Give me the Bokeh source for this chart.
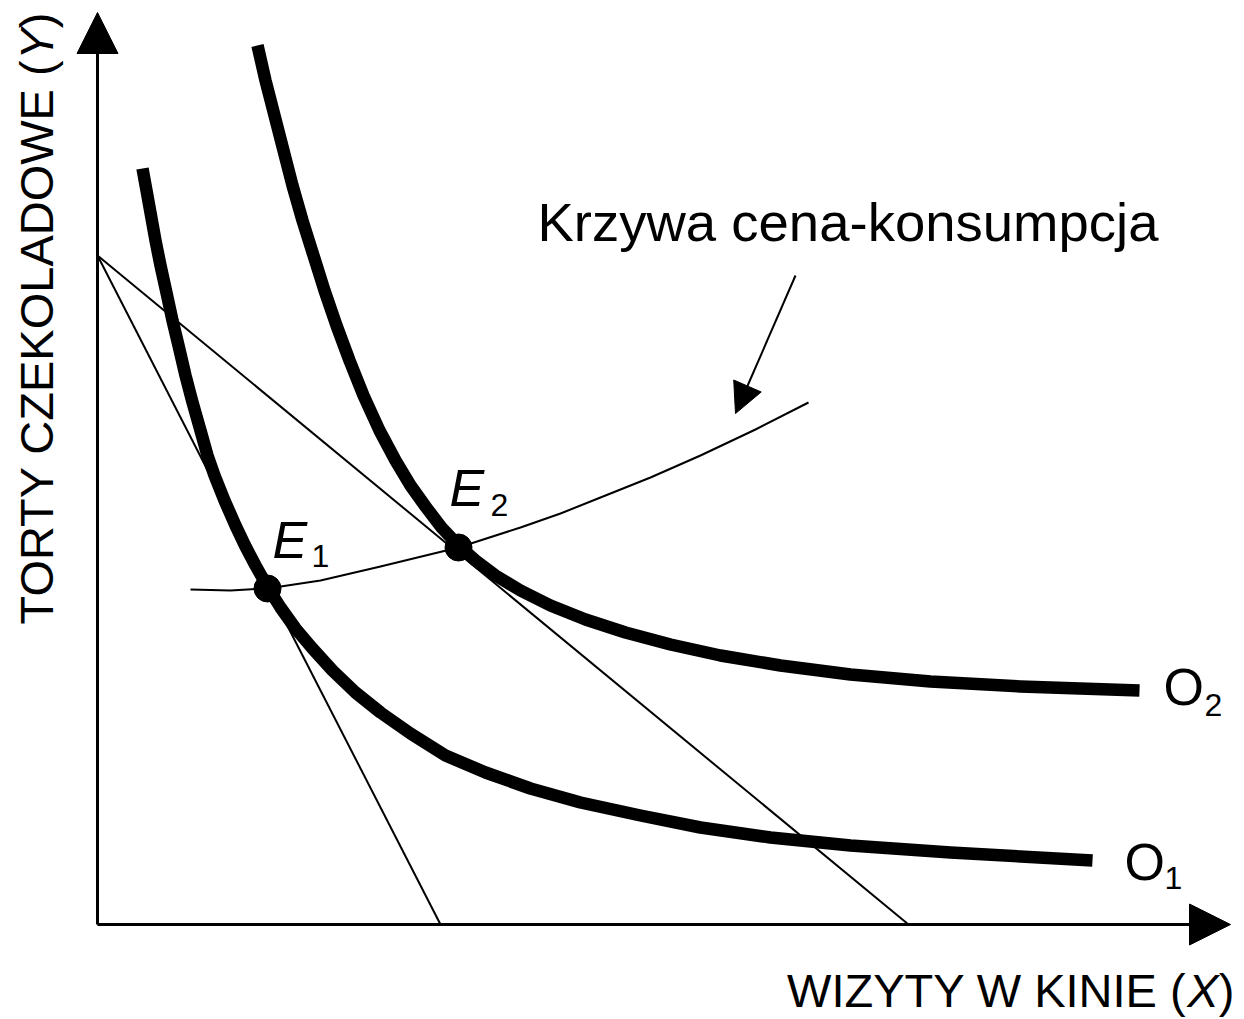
import math
from bokeh.plotting import figure
from bokeh.models import Range1d, Arrow, NormalHead
from bokeh.core.properties import value
from bokeh.embed import file_html
from bokeh.resources import INLINE

# ---- data (chart units, origin at the axes corner) ----
o1_x = [0.45, 0.49, 0.535, 0.58, 0.63, 0.685, 0.75, 0.81, 0.88, 0.945, 1.03, 1.10, 1.17, 1.27, 1.38, 1.475, 1.58, 1.71,
        1.83, 1.98, 2.15, 2.35, 2.58, 2.83, 3.13, 3.48, 3.88, 4.33, 4.83, 5.43, 6.03, 6.73, 7.53, 8.53, 9.95]
o1_y = [7.56, 7.34, 7.09, 6.84, 6.59, 6.34, 6.04, 5.79, 5.49, 5.24, 4.94, 4.69, 4.49, 4.24, 3.99, 3.79, 3.59, 3.36,
        3.17, 2.96, 2.76, 2.54, 2.32, 2.12, 1.91, 1.69, 1.52, 1.36, 1.22, 1.09, 0.97, 0.87, 0.79, 0.72, 0.64]

o2_x = [1.60, 1.68, 1.77, 1.86, 1.95, 2.05, 2.16, 2.27, 2.39, 2.52, 2.66, 2.82, 2.98, 3.13, 3.28, 3.44, 3.61,
        3.78, 3.98, 4.23, 4.53, 4.88, 5.28, 5.73, 6.23, 6.83, 7.53, 8.33, 9.23, 10.42]
o2_y = [8.79, 8.44, 8.09, 7.74, 7.39, 7.04, 6.69, 6.34, 5.99, 5.64, 5.29, 4.94, 4.64, 4.39, 4.18, 3.97, 3.79,
        3.64, 3.49, 3.34, 3.19, 3.05, 2.92, 2.80, 2.69, 2.59, 2.50, 2.43, 2.38, 2.34]

pcc_x = [0.93, 1.33, 1.70, 2.23, 2.83, 3.61, 4.23, 4.63, 5.03, 5.53, 6.03, 6.58, 7.11]
pcc_y = [3.35, 3.34, 3.36, 3.44, 3.58, 3.77, 3.97, 4.11, 4.27, 4.47, 4.69, 4.95, 5.22]

budget_y_intercept = 6.69
budget_x_intercepts = [3.43, 8.11]

eq_x = [1.70, 3.61]
eq_y = [3.36, 3.77]

x_label = "WIZYTY W KINIE ("
y_label = "TORTY CZEKOLADOWE ("
pcc_label = "Krzywa cena-konsumpcja"

FONT = "Liberation Sans"

p = figure(width=1244, height=1019, x_range=Range1d(-0.97, 11.47), y_range=Range1d(-0.95, 9.24),
           x_axis_type=None, y_axis_type=None, min_border=0, toolbar_location=None,
           output_backend="svg", title=None)
p.outline_line_color = None
p.background_fill_color = "white"
p.border_fill_color = "white"

# axes with arrow heads
p.add_layout(Arrow(end=NormalHead(size=41, fill_color="black", line_color="black"),
                   x_start=0, y_start=0, x_end=0, y_end=9.12, line_width=3, line_color="black"))
p.add_layout(Arrow(end=NormalHead(size=41, fill_color="black", line_color="black"),
                   x_start=0, y_start=0, x_end=11.33, y_end=0, line_width=3, line_color="black"))

# budget lines
for xi in budget_x_intercepts:
    p.line([0, xi], [budget_y_intercept, 0], line_width=2, line_color="black")

# price-consumption curve
p.line(pcc_x, pcc_y, line_width=2, line_color="black", line_join="round")

# indifference curves
p.line(o1_x, o1_y, line_width=12.5, line_color="black", line_cap="butt", line_join="round")
p.line(o2_x, o2_y, line_width=12.5, line_color="black", line_cap="butt", line_join="round")

# equilibrium points
p.scatter(eq_x, eq_y, size=27, marker="circle", fill_color="black", line_color="black")

# pointer arrow to the curve
p.add_layout(Arrow(end=NormalHead(size=30, fill_color="black", line_color="black"),
                   x_start=6.98, y_start=6.49, x_end=6.38, y_end=5.11, line_width=2, line_color="black"))

def T(x, y, s, size, style="normal", align="left", angle=0):
    # x, y: picture position of the text baseline
    if angle:
        xd, yd = (x - 0.39 * size - 97) / 100, (924 - y) / 100
    else:
        xd, yd = (x - 97) / 100, (924 - (y - 0.39 * size)) / 100
    p.text(x=[xd], y=[yd], text=[s], text_font=value(FONT),
           text_font_size=f"{size}px", text_font_style=style, text_align=align,
           text_baseline="alphabetic", angle=angle, text_color="black")

T(537, 243, pcc_label, 54.5)
T(272, 560, "E", 52, "italic")
T(311, 568, "1", 32)
T(449, 508, "E", 52, "italic")
T(490, 517, "2", 32)
T(1163, 707, "O", 52)
T(1204, 717, "2", 32)
T(1124, 882, "O", 52)
T(1164, 890, "1", 32)

# x label
T(1234, 1008, ")", 47, align="right")
T(1218, 1008, "X", 47, "italic", align="right")
T(1186, 1008, x_label, 47, align="right")
# y label (rotated)
A = math.pi / 2
T(54, 12, ")", 47, align="right", angle=A)
T(54, 28, "Y", 47, "italic", align="right", angle=A)
T(54, 59, y_label, 47, align="right", angle=A)

open("out.html", "w").write(file_html(p, INLINE))
